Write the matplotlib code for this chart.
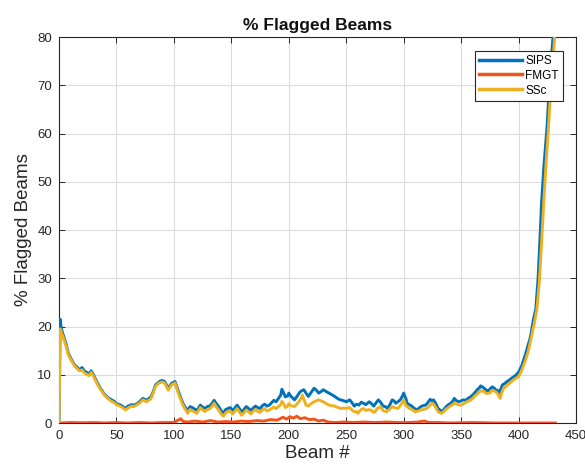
import matplotlib
matplotlib.use("Agg")
import matplotlib.pyplot as plt

plt.rcParams["font.family"] = ["Liberation Sans", "DejaVu Sans"]

# ---------------------------------------------------------------------------
# Data
# ---------------------------------------------------------------------------
sips_beam = [0, 1, 2, 4, 6, 8, 10, 13, 16, 18, 20, 22, 24, 26, 28, 30, 33, 36, 40, 43,
             45, 48, 50, 53, 55, 58, 60, 63, 65, 68, 70, 73, 76, 80, 82, 84, 86, 88, 90, 92,
             95, 98, 101, 104, 106, 108, 110, 112, 114, 116, 118, 120, 123, 125, 127, 129,
             131, 133, 135, 137, 139, 141, 143, 145, 147, 149, 151, 153, 155, 157, 159, 161,
             163, 165, 167, 169, 171, 173, 175, 177, 179, 181, 183, 185, 187, 189, 191, 193,
             194, 196, 197, 199, 200, 202, 205, 208, 210, 213, 215, 217, 220, 222, 224, 226,
             228, 230, 232, 235, 238, 240, 243, 245, 248, 250, 253, 255, 257, 259, 261, 263,
             265, 267, 270, 272, 274, 276, 278, 280, 282, 284, 286, 288, 290, 292, 293, 295,
             297, 299, 300, 302, 303, 305, 307, 309, 311, 313, 315, 317, 319, 321, 323, 325,
             326, 328, 330, 332, 333, 335, 337, 339, 341, 343, 344, 346, 348, 350, 352, 354,
             356, 358, 360, 362, 364, 366, 367, 369, 370, 372, 373, 375, 377, 379, 380, 382,
             383, 385, 386, 388, 390, 392, 394, 396, 398, 400, 401, 403, 404, 406, 408, 410,
             411, 413, 415, 417, 419, 420, 422, 424, 425, 427, 429, 430, 431]
sips_pct = [0, 21.5, 19.5, 18, 16.5, 14.5, 13.5, 12.2, 11.5, 11, 11.5, 10.8, 10.5, 10.2, 10.8,
            10, 8.5, 7.2, 5.8, 5.2, 4.9, 4.5, 4.0, 3.8, 3.5, 3.0, 3.5, 3.8, 3.7, 4.0, 4.4, 5.1,
            4.7, 5.4, 6.5, 7.9, 8.3, 8.7, 8.8, 8.6, 7.2, 8.2, 8.6, 6.5, 5.2, 4.0, 3.2, 2.6, 3.4,
            3.2, 2.9, 2.6, 3.7, 3.3, 3.0, 3.4, 3.5, 4.0, 4.7, 4.0, 3.4, 2.6, 2.0, 2.8, 3.0, 3.2,
            2.6, 3.1, 3.7, 3.0, 2.3, 2.8, 3.4, 3.0, 2.6, 3.1, 3.5, 3.2, 3.0, 3.6, 3.9, 3.5, 3.7,
            4.2, 4.7, 4.4, 5.1, 5.8, 7.0, 6.0, 5.4, 5.6, 6.2, 5.5, 4.8, 5.8, 6.5, 6.9, 6.2, 5.5,
            6.5, 7.2, 6.8, 6.2, 6.5, 6.9, 6.6, 6.2, 5.8, 5.5, 5.0, 4.8, 4.6, 4.4, 4.8, 4.2, 3.5,
            3.9, 3.7, 4.3, 4.1, 3.8, 4.4, 4.0, 3.5, 4.2, 4.8, 4.3, 3.5, 3.4, 3.0, 3.8, 4.8, 4.5,
            4.1, 4.4, 4.8, 5.6, 6.2, 5.0, 4.1, 3.8, 3.5, 3.1, 2.7, 3.0, 3.4, 3.6, 3.7, 4.2, 4.9,
            4.5, 4.8, 4.0, 3.0, 2.6, 2.3, 2.8, 3.4, 3.8, 4.1, 4.6, 5.1, 4.6, 4.4, 4.6, 4.8, 4.7,
            5.1, 5.4, 5.8, 6.3, 6.9, 7.3, 7.7, 7.4, 7.2, 6.8, 6.5, 7.0, 7.5, 7.2, 6.9, 6.7, 6.2,
            7.3, 7.9, 8.2, 8.6, 8.9, 9.3, 9.6, 10, 10.5, 11, 12, 12.8, 14.2, 15.9, 17.5, 18.7,
            21.5, 23.6, 30, 40, 45.6, 53, 59, 62, 71, 77, 80, 83]

ssc_beam = [0, 1, 2, 4, 6, 8, 10, 13, 16, 18, 20, 22, 24, 26, 28, 30, 33, 36, 40, 43,
            45, 48, 50, 53, 55, 58, 60, 63, 65, 68, 70, 73, 76, 80, 82, 84, 86, 88, 90, 92,
            95, 98, 101, 104, 106, 108, 110, 112, 114, 116, 118, 120, 123, 125, 127, 129,
            131, 133, 135, 137, 139, 141, 143, 145, 147, 149, 151, 153, 155, 157, 159, 161,
            163, 165, 167, 169, 171, 173, 175, 177, 179, 181, 183, 185, 187, 189, 191, 193,
            194, 196, 197, 199, 200, 202, 205, 208, 210, 212, 213, 215, 217, 220, 222, 224,
            226, 228, 230, 232, 235, 238, 240, 243, 245, 248, 250, 253, 255, 257, 259, 260,
            263, 265, 267, 270, 272, 274, 275, 277, 280, 282, 284, 285, 288, 290, 292, 295,
            297, 299, 300, 302, 305, 307, 309, 310, 313, 315, 317, 320, 323, 325, 326, 328,
            330, 332, 333, 335, 337, 340, 343, 345, 347, 350, 352, 355, 358, 360, 362, 365,
            367, 370, 372, 375, 377, 380, 382, 384, 385, 387, 390, 392, 394, 396, 398, 400,
            402, 404, 406, 408, 410, 412, 414, 416, 418, 420, 422, 424, 426, 428, 430, 432]
ssc_pct = [0, 19.5, 18.8, 17.5, 16, 14.2, 13.2, 12, 11.2, 10.8, 11.0, 10.4, 10.1, 9.8, 10.5,
           9.7, 8.2, 7.0, 5.6, 5.0, 4.6, 4.2, 3.8, 3.5, 3.2, 2.7, 3.1, 3.5, 3.4, 3.8, 4.1, 4.8,
           4.4, 5.0, 6.2, 7.6, 8.1, 8.4, 8.5, 8.3, 6.8, 7.9, 8.3, 6.0, 4.8, 3.6, 2.8, 2.0, 2.8,
           2.5, 2.3, 2.0, 3.2, 2.7, 2.4, 2.8, 2.9, 3.4, 4.1, 3.3, 2.7, 1.9, 1.4, 2.1, 2.4, 2.5,
           1.9, 2.4, 3.0, 2.3, 1.6, 2.1, 2.7, 2.3, 1.9, 2.4, 2.8, 2.4, 2.2, 2.7, 3.0, 2.5, 2.7,
           3.0, 3.3, 3.0, 3.4, 3.8, 4.5, 3.8, 3.2, 3.5, 4.0, 3.6, 3.4, 4.2, 4.8, 5.8, 5.0, 3.7,
           3.5, 4.1, 4.4, 4.6, 4.8, 4.6, 4.4, 4.1, 3.7, 3.6, 3.5, 3.2, 3.0, 3.1, 3.0, 3.2, 2.7,
           2.3, 2.4, 2.0, 2.8, 3.0, 2.6, 2.8, 2.6, 2.2, 2.3, 3.0, 3.4, 2.6, 2.4, 2.3, 2.9, 3.4,
           3.2, 3.0, 3.6, 4.3, 4.8, 3.6, 3.0, 2.8, 2.5, 2.3, 2.5, 2.7, 2.8, 3.0, 3.7, 4.1, 3.9,
           3.2, 2.3, 2.1, 2.0, 2.4, 2.9, 3.4, 3.9, 4.1, 3.8, 3.7, 4.0, 4.4, 4.7, 5.1, 5.6, 6.2,
           6.7, 6.5, 6.1, 6.2, 6.8, 6.5, 6.0, 5.1, 6.0, 7.2, 7.8, 8.2, 8.6, 9.0, 9.3, 9.6, 10.5,
           11.7, 13.0, 14.5, 16.5, 18.7, 21.0, 23.6, 29, 37, 46, 54, 61, 69, 75, 82]

fmgt_beam = [0, 10, 20, 30, 40, 50, 60, 70, 80, 90, 100, 103, 106, 108, 112, 118, 125, 132,
             138, 145, 152, 158, 165, 172, 178, 184, 190, 195, 198, 201, 204, 207, 210, 214,
             218, 222, 226, 230, 234, 240, 248, 256, 265, 275, 285, 295, 305, 312, 318, 322,
             330, 340, 360, 380, 400, 415, 432]
fmgt_pct = [0, 0.1, 0.05, 0.1, 0.0, 0.1, 0.0, 0.1, 0.0, 0.1, 0.1, 0.5, 0.9, 0.3, 0.2, 0.4,
            0.2, 0.5, 0.2, 0.3, 0.2, 0.4, 0.3, 0.5, 0.4, 0.7, 0.6, 1.2, 0.8, 1.3, 1.0, 1.4,
            0.9, 1.1, 0.7, 0.8, 0.4, 0.6, 0.2, 0.1, 0.2, 0.1, 0.2, 0.1, 0.2, 0.1, 0.1, 0.2,
            0.4, 0.1, 0.1, 0.0, 0.1, 0.0, 0.0, 0.0, 0.0]

x_ticks = [0, 50, 100, 150, 200, 250, 300, 350, 400, 450]
y_ticks = [0, 10, 20, 30, 40, 50, 60, 70, 80]

# MATLAB default colour order
C_SIPS = "#0072BD"
C_FMGT = "#F2551C"
C_SSC = "#EDB120"
TICK_GREY = "#262626"

fig = plt.figure(figsize=(5.85, 4.71), dpi=100)
ax = fig.add_axes([0.1009, 0.1019, 0.8837, 0.8195])

ax.plot(sips_beam, sips_pct, color=C_SIPS, linewidth=2.1, label="SIPS", zorder=3)
ax.plot(fmgt_beam, fmgt_pct, color=C_FMGT, linewidth=2.1, label="FMGT", zorder=4)
ax.plot(ssc_beam, ssc_pct, color=C_SSC, linewidth=2.1, label="SSc", zorder=5)

ax.set_xlim(0, 450)
ax.set_ylim(0, 80)
ax.set_xticks(x_ticks)
ax.set_yticks(y_ticks)
ax.grid(True, color="#dcdcdc", linewidth=0.8)
ax.set_axisbelow(True)

ax.tick_params(direction="in", top=True, right=True, length=4, width=0.7,
               labelsize=9.5, colors=TICK_GREY, pad=5)
for s in ax.spines.values():
    s.set_color(TICK_GREY)
    s.set_linewidth(0.8)

ax.set_title("% Flagged Beams", fontsize=12.5, fontweight="bold", color="#111111", pad=5)
ax.set_xlabel("Beam #", fontsize=13.5, color=TICK_GREY, labelpad=2)
ax.set_ylabel("% Flagged Beams", fontsize=13.5, color=TICK_GREY, labelpad=4)

leg = ax.legend(loc="upper right", bbox_to_anchor=(0.975, 0.965), fontsize=8.5,
                frameon=True, fancybox=False, framealpha=1, edgecolor=TICK_GREY,
                handlelength=3.6, handletextpad=0.3, borderpad=0.35, labelspacing=0.25,
                borderaxespad=0)
leg.get_frame().set_linewidth(0.8)
for line in leg.get_lines():
    line.set_linewidth(2.5)

fig.savefig("out.png", dpi=100)
